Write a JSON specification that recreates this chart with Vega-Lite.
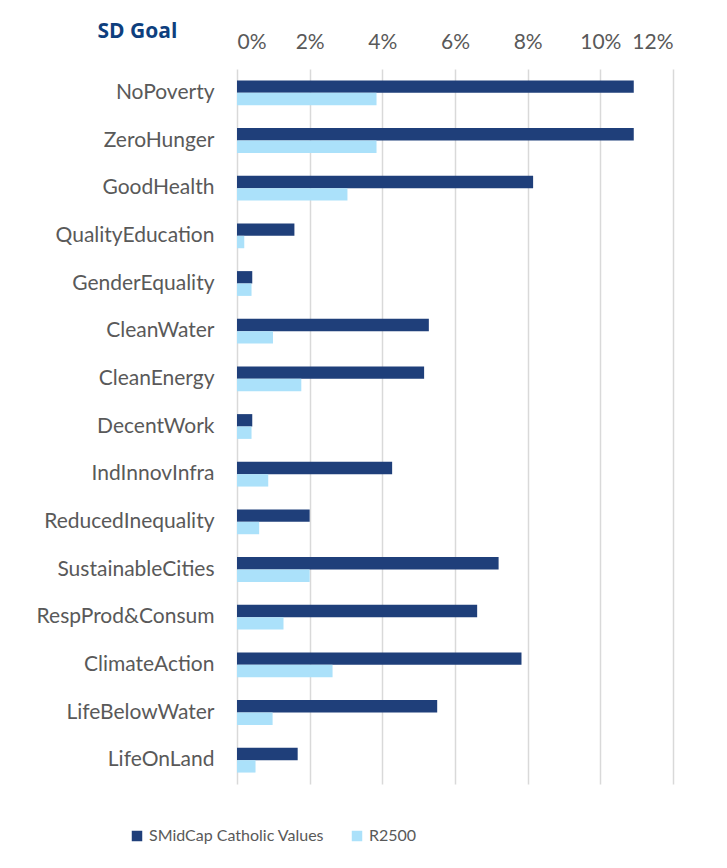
{
  "$schema": "https://vega.github.io/schema/vega-lite/v6.json",
  "autosize": "none",
  "width": 436,
  "height": 715,
  "padding": {"left": 237, "top": 69, "right": 54, "bottom": 84},
  "background": "white",
  "data": {
    "values": [
      {"goal": "NoPoverty", "series": "SMidCap Catholic Values", "value": 0.1092},
      {"goal": "NoPoverty", "series": "R2500", "value": 0.0384},
      {"goal": "ZeroHunger", "series": "SMidCap Catholic Values", "value": 0.1092},
      {"goal": "ZeroHunger", "series": "R2500", "value": 0.0384},
      {"goal": "GoodHealth", "series": "SMidCap Catholic Values", "value": 0.0815},
      {"goal": "GoodHealth", "series": "R2500", "value": 0.0304},
      {"goal": "QualityEducation", "series": "SMidCap Catholic Values", "value": 0.0158},
      {"goal": "QualityEducation", "series": "R2500", "value": 0.0020},
      {"goal": "GenderEquality", "series": "SMidCap Catholic Values", "value": 0.0042},
      {"goal": "GenderEquality", "series": "R2500", "value": 0.0040},
      {"goal": "CleanWater", "series": "SMidCap Catholic Values", "value": 0.0528},
      {"goal": "CleanWater", "series": "R2500", "value": 0.0099},
      {"goal": "CleanEnergy", "series": "SMidCap Catholic Values", "value": 0.0515},
      {"goal": "CleanEnergy", "series": "R2500", "value": 0.0177},
      {"goal": "DecentWork", "series": "SMidCap Catholic Values", "value": 0.0042},
      {"goal": "DecentWork", "series": "R2500", "value": 0.0040},
      {"goal": "IndInnovInfra", "series": "SMidCap Catholic Values", "value": 0.0427},
      {"goal": "IndInnovInfra", "series": "R2500", "value": 0.0086},
      {"goal": "ReducedInequality", "series": "SMidCap Catholic Values", "value": 0.0200},
      {"goal": "ReducedInequality", "series": "R2500", "value": 0.0061},
      {"goal": "SustainableCities", "series": "SMidCap Catholic Values", "value": 0.0720},
      {"goal": "SustainableCities", "series": "R2500", "value": 0.0200},
      {"goal": "RespProd&Consum", "series": "SMidCap Catholic Values", "value": 0.0661},
      {"goal": "RespProd&Consum", "series": "R2500", "value": 0.0128},
      {"goal": "ClimateAction", "series": "SMidCap Catholic Values", "value": 0.0783},
      {"goal": "ClimateAction", "series": "R2500", "value": 0.0263},
      {"goal": "LifeBelowWater", "series": "SMidCap Catholic Values", "value": 0.0551},
      {"goal": "LifeBelowWater", "series": "R2500", "value": 0.0098},
      {"goal": "LifeOnLand", "series": "SMidCap Catholic Values", "value": 0.0167},
      {"goal": "LifeOnLand", "series": "R2500", "value": 0.0051}
    ]
  },
  "mark": {"type": "bar"},
  "encoding": {
    "y": {
      "field": "goal",
      "type": "nominal",
      "sort": null,
      "scale": {"paddingInner": 0.48, "paddingOuter": 0.24},
      "axis": {
        "title": "SD Goal",
        "titleAngle": 0,
        "titleAlign": "left",
        "titleBaseline": "middle",
        "titleX": -140,
        "titleY": -38,
        "titleFont": "Open Sans",
        "titleFontSize": 21,
        "titleFontWeight": "bold",
        "titleColor": "#0E3F7E",
        "labelFont": "Lato",
        "labelFontSize": 21,
        "labelColor": "#595959",
        "labelPadding": 23,
        "labelLimit": 0,
        "ticks": false,
        "domain": false,
        "grid": false
      }
    },
    "yOffset": {
      "field": "series",
      "type": "nominal",
      "sort": ["SMidCap Catholic Values", "R2500"],
      "scale": {"paddingInner": 0, "paddingOuter": 0}
    },
    "x": {
      "field": "value",
      "type": "quantitative",
      "scale": {"domain": [0, 0.12], "nice": false},
      "axis": {
        "orient": "top",
        "title": null,
        "format": ".0%",
        "values": [0, 0.02, 0.04, 0.06, 0.08, 0.1, 0.12],
        "labelFont": "Lato",
        "labelFontSize": 21,
        "labelColor": "#595959",
        "labelPadding": 17,
        "ticks": false,
        "domain": false,
        "grid": true,
        "gridColor": "#D9D9D9",
        "gridWidth": 1.5
      }
    },
    "color": {
      "field": "series",
      "type": "nominal",
      "scale": {"domain": ["SMidCap Catholic Values", "R2500"], "range": ["#1F3F7A", "#ABE1FA"]},
      "legend": {
        "title": null,
        "orient": "none",
        "direction": "horizontal",
        "legendX": -108,
        "legendY": 759,
        "symbolType": "square",
        "symbolSize": 110,
        "symbolStrokeWidth": 0,
        "labelFont": "Lato",
        "labelFontSize": 16,
        "labelColor": "#595959",
        "labelLimit": 0,
        "columnPadding": 24,
        "labelOffset": 4
      }
    }
  },
  "config": {"view": {"stroke": null}}
}
